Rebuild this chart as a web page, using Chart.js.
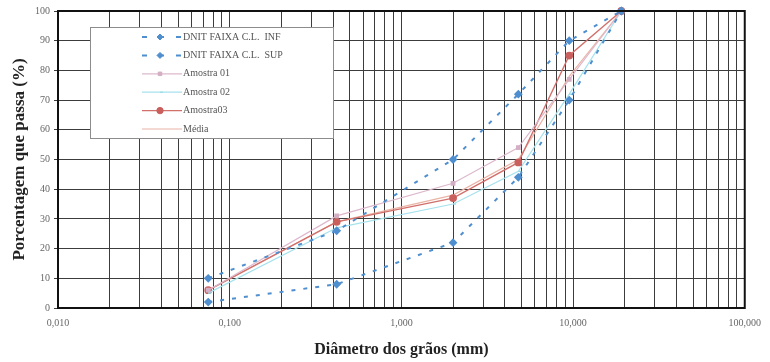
<!DOCTYPE html>
<html>
<head>
<meta charset="utf-8">
<script src="https://cdn.jsdelivr.net/npm/chart.js@4/dist/chart.umd.min.js"></script>
<style>
  html, body { margin: 0; padding: 0; background: #fff; }
  #wrap { width: 770px; height: 362px; position: relative; }
</style>
</head>
<body>
<div id="wrap"><canvas id="c" width="770" height="362"></canvas></div>
<script>
// Sieve openings (mm) and percent passing for each curve
const sieveSizes = [0.075, 0.42, 2.0, 4.8, 9.5, 19.1];
const dnitInf   = [2, 8, 22, 44, 70, 100];
const dnitSup   = [10, 26, 50, 72, 90, 100];
const amostra01 = [6, 31, 42, 54, 77, 100];
const amostra02 = [5, 27, 35, 46, 72, 100];
const amostra03 = [6, 29, 37, 49, 85, 100];
const media     = [6, 29, 38, 50, 78, 100];

const seriesLabels = ['DNIT FAIXA C.L.  INF', 'DNIT FAIXA C.L.  SUP', 'Amostra 01', 'Amostra 02', 'Amostra03', 'Média'];
const xTickLabels = ['0,010', '0,100', '1,000', '10,000', '100,000'];
const xDecades = [0.01, 0.1, 1, 10, 100];

const pts = arr => sieveSizes.map((d, i) => ({ x: d, y: arr[i] }));
const SERIF = '"Liberation Serif", "Times New Roman", serif';
const BLUE = '#4f8fcf';

const datasets = [
  { label: seriesLabels[0], data: pts(dnitInf), borderColor: BLUE, backgroundColor: BLUE,
    borderWidth: 2, borderDash: [4, 8], pointStyle: 'rectRot', pointRadius: 3 },
  { label: seriesLabels[1], data: pts(dnitSup), borderColor: BLUE, backgroundColor: BLUE,
    borderWidth: 2, borderDash: [4, 8], pointStyle: 'rectRot', pointRadius: 3 },
  { label: seriesLabels[2], data: pts(amostra01), borderColor: '#dcb8cc', backgroundColor: '#d4aec4',
    borderWidth: 1.2, pointStyle: 'rect', pointRadius: 2.5 },
  { label: seriesLabels[3], data: pts(amostra02), borderColor: '#a6e2ec', backgroundColor: '#8fd8e6',
    borderWidth: 1.2, pointStyle: 'dash', pointRadius: 3 },
  { label: seriesLabels[4], data: pts(amostra03), borderColor: '#d2706c', backgroundColor: '#c9605e',
    borderWidth: 1.4, pointStyle: 'circle', pointRadius: 3.2 },
  { label: seriesLabels[5], data: pts(media), borderColor: '#eab4a6', backgroundColor: '#eab4a6',
    borderWidth: 1.2, pointRadius: 0 }
];
datasets.forEach(d => { d.clip = false; d.tension = 0; d.fill = false; d.pointBorderColor = d.backgroundColor; });

// Legend drawn as a framed box inside the plot area
const boxLegend = {
  id: 'boxLegend',
  afterDatasetsDraw(chart) {
    const ctx = chart.ctx;
    const bx = 90, by = 27, bw = 243, bh = 111;
    ctx.save();
    ctx.fillStyle = '#fff';
    ctx.fillRect(bx, by, bw, bh);
    ctx.strokeStyle = '#8c8c8c';
    ctx.lineWidth = 1;
    ctx.strokeRect(bx + 0.5, by + 0.5, bw, bh);
    chart.data.datasets.forEach((ds, i) => {
      const y = by + 10 + i * 18.4;
      ctx.save();
      ctx.strokeStyle = ds.borderColor;
      ctx.lineWidth = ds.borderWidth;
      if (ds.borderDash) ctx.setLineDash([5, 12]);
      ctx.beginPath();
      ctx.moveTo(142, y);
      ctx.lineTo(182, y);
      ctx.stroke();
      ctx.restore();
      if (ds.pointRadius > 0) {
        ctx.save();
        ctx.fillStyle = ds.backgroundColor;
        ctx.strokeStyle = ds.backgroundColor;
        ctx.lineWidth = 1;
        Chart.helpers.drawPoint(ctx, { pointStyle: ds.pointStyle, radius: ds.pointRadius, rotation: 0, borderWidth: 1 }, 160, y);
        ctx.restore();
      }
      ctx.fillStyle = '#555';
      ctx.font = '10px ' + SERIF;
      ctx.textBaseline = 'middle';
      ctx.fillText(ds.label, 183, y);
    });
    ctx.restore();
  },
  afterDraw(chart) {
    const a = chart.chartArea, ctx = chart.ctx;
    ctx.save();
    ctx.strokeStyle = '#111';
    ctx.lineWidth = 2;
    ctx.strokeRect(a.left, a.top, a.right - a.left, a.bottom - a.top);
    ctx.restore();
  }
};

new Chart(document.getElementById('c'), {
  type: 'line',
  data: { datasets },
  plugins: [boxLegend],
  options: {
    responsive: false,
    animation: false,
    devicePixelRatio: 1,
    layout: { padding: { top: 11, right: 18, left: 0, bottom: 0 } },
    plugins: { legend: { display: false }, tooltip: { enabled: false } },
    scales: {
      x: {
        type: 'logarithmic',
        min: 0.01,
        max: 100,
        afterBuildTicks(scale) {
          const t = [];
          xDecades.forEach((dec, j) => {
            if (j === xDecades.length - 1) { t.push({ value: dec }); return; }
            for (let k = 1; k <= 9; k++) t.push({ value: Number((k * dec).toPrecision(4)) });
          });
          scale.ticks = t;
        },
        afterFit(scale) { scale.height = 54; },
        grid: { color: '#3c3c3c', lineWidth: 1, drawTicks: false },
        border: { display: false },
        ticks: {
          autoSkip: false, maxRotation: 0, padding: 9,
          color: '#666', font: { family: SERIF, size: 10 },
          callback(v) {
            const i = xDecades.findIndex(d => Math.abs(d - v) < d * 1e-6);
            return i >= 0 ? xTickLabels[i] : '';
          }
        },
        title: {
          display: true, text: 'Diâmetro dos grãos (mm)', color: '#222',
          font: { family: SERIF, size: 16, weight: 'bold' },
          padding: { top: 0, bottom: 3 }
        }
      },
      y: {
        min: 0, max: 100,
        afterFit(scale) { scale.width = 58; },
        grid: { color: '#3c3c3c', lineWidth: 1, tickLength: 4 },
        border: { display: false },
        ticks: {
          stepSize: 5, padding: 4, color: '#666', font: { family: SERIF, size: 10 },
          callback(v) { return v % 10 === 0 ? String(v) : ''; }
        },
        title: {
          display: true, text: 'Porcentagem que passa (%)', color: '#222',
          font: { family: SERIF, size: 17, weight: 'bold' },
          padding: { top: 9, bottom: 0 }
        }
      }
    }
  }
});
</script>
</body>
</html>
